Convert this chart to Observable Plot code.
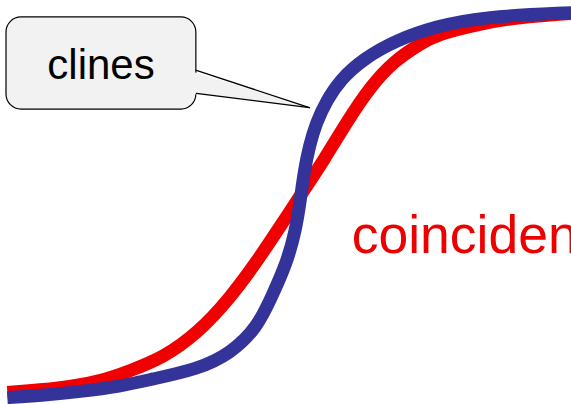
<!DOCTYPE html>
<html>
<head>
<meta charset="utf-8">
<script src="https://cdn.jsdelivr.net/npm/d3@7"></script>
<script src="https://cdn.jsdelivr.net/npm/@observablehq/plot@0.6"></script>
<style>
  html, body { margin: 0; padding: 0; background: #ffffff; overflow: hidden; }
  #chart { width: 571px; height: 404px; }
</style>
</head>
<body>
<div id="chart"></div>
<script>
// Cline 1 (red): position along transect (0–100) vs frequency (0–1)
const redPosition = [1.2, 10.5, 17.5, 22.8, 28.5, 34.5, 40.3, 45.0, 49.0, 52.5, 56.6, 60.8, 64.8, 68.8, 73.6, 76.5, 84.1, 90.5, 100];
const redFrequency = [0.030, 0.040, 0.057, 0.084, 0.116, 0.176, 0.265, 0.356, 0.441, 0.517, 0.604, 0.703, 0.787, 0.849, 0.894, 0.916, 0.943, 0.958, 0.968];

// Cline 2 (blue): steeper cline
const bluePosition = [1.2, 7.0, 14.0, 21.0, 26.3, 34.5, 40.3, 45.0, 47.6, 50.1, 51.7, 52.5, 53.2, 54.1, 55.3, 57.1, 59.5, 63.6, 69.2, 76.2, 84.6, 100];
const blueFrequency = [0.017, 0.022, 0.032, 0.045, 0.062, 0.087, 0.126, 0.191, 0.270, 0.349, 0.431, 0.505, 0.579, 0.641, 0.698, 0.752, 0.804, 0.856, 0.901, 0.936, 0.960, 0.970];

// Labels
const calloutLabel = "clines";
const centreLabel = "coincident";

const red = redPosition.map((x, i) => ({x, y: redFrequency[i]}));
const blue = bluePosition.map((x, i) => ({x, y: blueFrequency[i]}));

// Callout geometry (in data units)
const box = [{x1: 1.05, x2: 34.3, y1: 0.730, y2: 0.958}];
const pointerFill = [{x: 33.0, y: 0.827}, {x: 54.1, y: 0.735}, {x: 33.0, y: 0.770}];
const pointerTop = [{x: 34.3, y: 0.827}, {x: 54.1, y: 0.735}];
const pointerBottom = [{x: 34.3, y: 0.770}, {x: 54.1, y: 0.735}];

const font = "Liberation Sans, Arial, Helvetica, sans-serif";

const plot = Plot.plot({
  width: 571,
  height: 404,
  margin: 0,
  x: {domain: [0, 100], axis: null},
  y: {domain: [0, 1], axis: null},
  style: {fontFamily: font, background: "#ffffff", overflow: "hidden"},
  marks: [
    Plot.line(red, {x: "x", y: "y", stroke: "#f00000", strokeWidth: 13, curve: "basis", strokeLinecap: "butt"}),
    Plot.line(blue, {x: "x", y: "y", stroke: "#333399", strokeWidth: 13, curve: "basis", strokeLinecap: "butt"}),
    Plot.rect(box, {x1: "x1", x2: "x2", y1: "y1", y2: "y2", fill: "#f2f2f2", stroke: "#000000", strokeWidth: 1.2, rx: 15}),
    Plot.line(pointerFill, {x: "x", y: "y", fill: "#f2f2f2", stroke: "none", curve: "linear-closed"}),
    Plot.line(pointerTop, {x: "x", y: "y", stroke: "#000000", strokeWidth: 1.2}),
    Plot.line(pointerBottom, {x: "x", y: "y", stroke: "#000000", strokeWidth: 1.2}),
    Plot.text([calloutLabel], {x: 17.6, y: 0.838, text: d => d, fontSize: 42, fill: "#000000", textAnchor: "middle", lineAnchor: "middle", fontFamily: font}),
    Plot.text([centreLabel], {x: 61.5, y: 0.417, text: d => d, fontSize: 53.5, fill: "#ee0000", textAnchor: "start", lineAnchor: "middle", fontFamily: font})
  ]
});
document.getElementById("chart").appendChild(plot);
</script>
</body>
</html>
